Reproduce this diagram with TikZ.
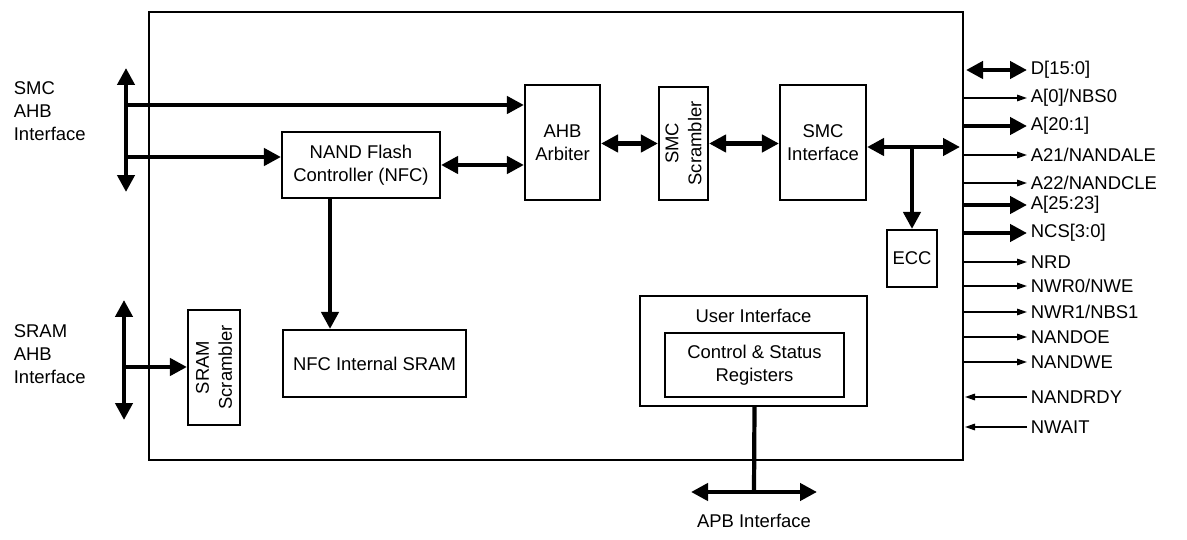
\documentclass[tikz,border=0pt]{standalone}
\usepackage{fontspec}
\setmainfont{Liberation Sans}
\usetikzlibrary{arrows.meta}
\begin{document}
\begin{tikzpicture}[x=0.02cm,y=-0.02cm,font=\fontsize{10.5}{13}\selectfont,
  blk/.style={draw, line width=1.2pt, inner sep=0pt, align=center},
  bus/.style={line width=2.4pt, -{Triangle[length=0.34cm,width=0.34cm]}},
  bibus/.style={line width=2.4pt, {Triangle[length=0.34cm,width=0.34cm]}-{Triangle[length=0.34cm,width=0.34cm]}},
  sig/.style={line width=0.9pt, -{Triangle[length=0.2cm,width=0.13cm]}},
  lbl/.style={anchor=west, inner sep=2pt, align=left}]
 \useasboundingbox (0,0) rectangle (1187,540);

  % chip outline
  \node[blk, minimum width=16.28cm, minimum height=8.96cm] (chip) at (556,236) {};

  \node[blk, minimum width=3.16cm, minimum height=1.32cm] (nfc) at (361,165) {NAND Flash\\Controller (NFC)};
  \node[blk, minimum width=1.5cm, minimum height=2.3cm] (arb) at (562.5,142.5) {AHB\\Arbiter};
  \node[blk, minimum width=2.26cm, minimum height=0.98cm, rotate=90] (smcs) at (683.5,143.5) {SMC\\Scrambler};
  \node[blk, minimum width=1.72cm, minimum height=2.3cm] (smci) at (823,142.5) {SMC\\Interface};
  \node[blk, minimum width=1cm, minimum height=1.14cm] (ecc) at (912,258.5) {ECC};
  \node[blk, minimum width=3.66cm, minimum height=1.34cm] (sram) at (374.5,363.5) {NFC Internal SRAM};
  \node[blk, minimum width=2.3cm, minimum height=1.04cm, rotate=90] (srams) at (214,367.5) {SRAM\\Scrambler};
  \node[blk, minimum width=4.54cm, minimum height=2.2cm] (ui) at (753.5,351) {};
  \node (uil) at (753.5,316) {User Interface};
  \node[blk, minimum width=3.58cm, minimum height=1.28cm] (csr) at (754.5,365) {Control \& Status\\Registers};

  \node[lbl, anchor=west, align=left] (smcl) at (10,111) {SMC\\AHB\\Interface};
  \node[lbl, anchor=west, align=left] (sraml) at (10,354) {SRAM\\AHB\\Interface};
  \node (apbl) at (754,521) {APB Interface};

  \coordinate (smct) at (126,68);
  \coordinate (smcb) at (126,192);
  \coordinate (smc1) at (126,105);
  \coordinate (smc2) at (126,157);
  \coordinate (sramt) at (124,300);
  \coordinate (sramb) at (124,420);
  \coordinate (sram1) at (124,367);
  \coordinate (eccj) at (912,147);
  \coordinate (edge) at (960,147);
  \coordinate (apbj) at (754,492);
  \coordinate (apbw) at (691,492);
  \coordinate (apbe) at (817,492);

  \draw[bibus] (smct) -- (smcb);
  \draw[bus] (smc1) -- (smc1 -| arb.west);
  \draw[bus] (smc2) -- (nfc.west |- smc2);
  \draw[bibus] (nfc.east) -- (nfc.east -| arb.west);
  \draw[bibus] (arb.east |- smcs.center) -- (smcs.north);
  \draw[bibus] (smcs.south) -- (smci.west |- smcs.center);
  \draw[bibus] (smci.east |- eccj) -- (edge);
  \draw[bus] (eccj) -- (ecc.north);
  \draw[bus] (nfc.south -| 330,0) -- (sram.north -| 330,0);
  \draw[bibus] (sramt) -- (sramb);
  \draw[bus] (sram1) -- (srams.north |- sram1);
  \draw[line width=2.4pt] (csr.south |- ui.south) -- (apbj);
  \draw[bibus] (apbw) -- (apbe);

  % external signals
  \node[lbl] (d) at (1027,70) {D[15:0]};
  \node[lbl] (a0) at (1027,98) {A[0]/NBS0};
  \node[lbl] (a20) at (1027,126) {A[20:1]};
  \node[lbl] (a21) at (1027,155) {A21/NANDALE};
  \node[lbl] (a22) at (1027,183) {A22/NANDCLE};
  \node[lbl] (a25) at (1027,205) {A[25:23]};
  \node[lbl] (ncs) at (1027,233) {NCS[3:0]};
  \node[lbl] (nrd) at (1027,262) {NRD};
  \node[lbl] (nwr0) at (1027,286) {NWR0/NWE};
  \node[lbl] (nwr1) at (1027,312) {NWR1/NBS1};
  \node[lbl] (noe) at (1027,337) {NANDOE};
  \node[lbl] (nwe) at (1027,362) {NANDWE};
  \node[lbl] (rdy) at (1027,397) {NANDRDY};
  \node[lbl] (wait) at (1027,427) {NWAIT};

  \draw[bibus] (966,70) -- (d.west);
  \draw[sig] (963,98) -- (a0.west);
  \draw[bus] (963,126) -- (a20.west);
  \draw[sig] (963,155) -- (a21.west);
  \draw[sig] (963,183) -- (a22.west);
  \draw[bus] (963,205) -- (a25.west);
  \draw[bus] (963,233) -- (ncs.west);
  \draw[sig] (963,262) -- (nrd.west);
  \draw[sig] (963,286) -- (nwr0.west);
  \draw[sig] (963,312) -- (nwr1.west);
  \draw[sig] (963,337) -- (noe.west);
  \draw[sig] (963,362) -- (nwe.west);
  \draw[sig] (rdy.west) -- (965,397);
  \draw[sig] (wait.west) -- (965,427);

\end{tikzpicture}
\end{document}
